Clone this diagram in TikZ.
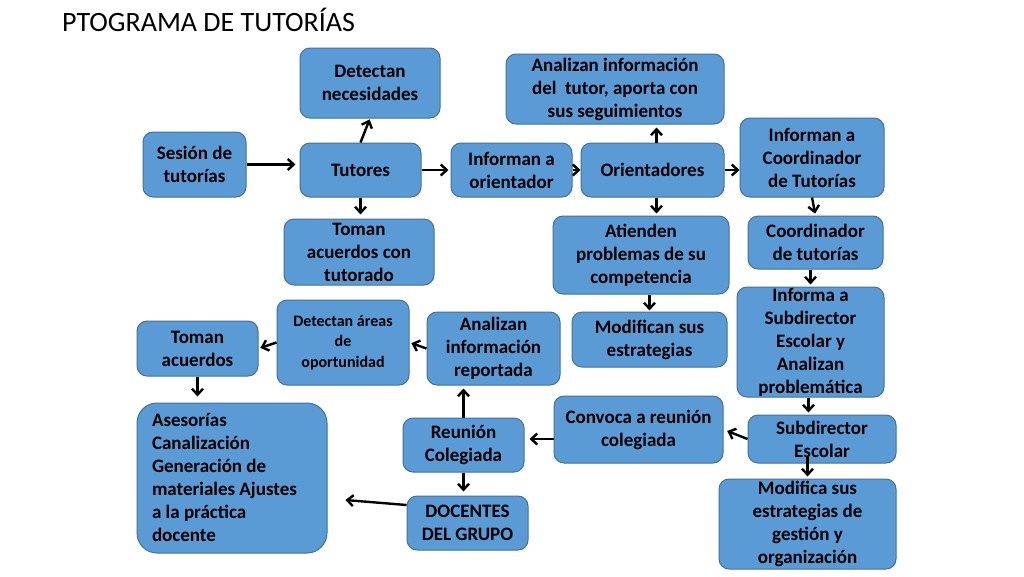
\documentclass[tikz,border=0pt]{standalone}
\usepackage{fontspec}
\setmainfont{Carlito}
\usepackage{tikz}
\usetikzlibrary{arrows.meta}
\definecolor{ColA}{RGB}{91,155,213}
\definecolor{ColB}{RGB}{65,113,156}
\tikzstyle{NodeBox}=[rectangle,rounded corners=10pt,draw=ColB,fill=ColA,line width=1pt,
inner sep=0pt,align=flush center,font=\bfseries\fontsize{19}{23}\selectfont]
\tikzstyle{NodeSmall}=[NodeBox,font=\bfseries\fontsize{16}{20.5}\selectfont]
\tikzstyle{EdgeArrow}=[black,line width=2.4pt,-{Straight Barb[length=6pt,width=11pt]}]
\tikzset{Size/.style 2 args={minimum width=#1,text width=#1,minimum height=#2}}

\begin{document}
\begin{tikzpicture}[x=1pt,y=-1pt]
        \useasboundingbox[fill=white](0,0)rectangle(1024,576);
        \node[anchor=base west,inner sep=0pt,font=\fontsize{28}{30}\selectfont](Title)at(62,31){PTOGRAMA DE TUTORÍAS};
        \node[NodeBox,Size={140pt}{70pt}](DetNec)at(370,83){Detectan\\necesidades};
        \node[NodeBox,Size={218pt}{70pt}](AnaInf)at(615,89){Analizan información\\del\ \ tutor, aporta con\\sus seguimientos};
        \node[NodeBox,Size={103pt}{65pt}](Sesion)at(194.5,164.5){Sesión de\\tutorías};
        \node[NodeBox,Size={121pt}{54pt}](Tut)at(360.5,170){Tutores};
        \node[NodeBox,Size={121pt}{54pt}](InfOri)at(511.5,170){Informan a\\orientador};
        \node[NodeBox,Size={143pt}{54pt}](Ori)at(652.5,170){Orientadores};
        \node[NodeBox,Size={144pt}{79pt}](InfCoo)at(812,157.5){Informan a\\Coordinador\\de Tutorías};
        \node[NodeBox,Size={150pt}{66pt}](TomTut)at(359,252){Toman\\acuerdos con\\tutorado};
        \node[NodeBox,Size={176pt}{78pt}](Atien)at(641,255){Atienden\\problemas de su\\competencia};
        \node[NodeBox,Size={135pt}{53pt}](CooTut)at(815.5,242.5){Coordinador\\de tutorías};
        \node[NodeBox,Size={147pt}{110pt}](InfSub)at(810.5,342){Informa a\\Subdirector\\Escolar y\\Analizan\\problemática};
        \node[NodeBox,Size={155pt}{55pt}](ModEst)at(649.5,339.5){Modifican sus\\estrategias};
        \node[NodeBox,Size={169pt}{67pt}](Convoca)at(638.5,429.5){Convoca a reunión\\colegiada};
        \node[NodeBox,Size={148pt}{48pt}](SubEsc)at(822,439){Subdirector\\Escolar};
        \node[NodeBox,Size={177pt}{90pt}](ModGes)at(807.5,524){Modifica sus\\estrategias de\\gestión y\\organización};
        \node[NodeSmall,Size={132pt}{85pt}](DetAre)at(343,342.5){Detectan áreas\\de\\oportunidad};
        \node[NodeBox,Size={133pt}{73pt}](AnaRep)at(493.5,348.5){Analizan\\información\\reportada};
        \node[NodeBox,Size={121pt}{55pt}](TomAcu)at(197.5,348.5){Toman\\acuerdos};
        \node[NodeBox,rounded corners=20pt,align=flush left,text width=160pt,inner xsep=15pt,
            minimum height=150pt](Ases)at(232,478){Asesorías\\Canalización\\Generación de\\materiales Ajustes\\a la práctica\\docente};
        \node[NodeBox,Size={121pt}{54pt}](Reu)at(463.5,445){Reunión\\Colegiada};
        \node[NodeBox,Size={121pt}{54pt}](Doc)at(467.5,523){DOCENTES\\DEL GRUPO};
        % connectors
        \draw[EdgeArrow,shorten >=4pt](Sesion.east)--(Sesion.east-|Tut.west);
        \draw[EdgeArrow,shorten >=1pt](Tut.north)--(DetNec.south);
        \draw[EdgeArrow,shorten >=4pt](Tut.south)--(Tut.south|-TomTut.north);
        \draw[EdgeArrow,shorten >=2pt](Tut.east)--(Tut.east-|InfOri.west);
        \draw[EdgeArrow](InfOri.east)--(InfOri.east-|Ori.west);
        \draw[EdgeArrow,shorten >=3pt]([xshift=4pt]Ori.north)--([xshift=4pt]Ori.north|-AnaInf.south);
        \draw[EdgeArrow](Ori.east)--(Ori.east-|InfCoo.west);
        \draw[EdgeArrow,shorten >=2pt]([xshift=4pt]Ori.south)--([xshift=4pt]Ori.south|-Atien.north);
        \draw[EdgeArrow,shorten >=2pt](InfCoo.south)--(CooTut.north);
        \draw[EdgeArrow,shorten >=2pt](InfSub.north|-CooTut.south)--(InfSub.north);
        \draw[EdgeArrow,shorten >=1pt](ModEst.north|-Atien.south)--(ModEst.north);
        \draw[EdgeArrow,shorten >=2pt]([xshift=-2pt]InfSub.south)--([xshift=-2pt]InfSub.south|-SubEsc.north);
        \draw[EdgeArrow,shorten >=4pt](SubEsc.west)--(Convoca.east);
        \draw[EdgeArrow,shorten >=2pt]([yshift=8pt]ModGes.north|-SubEsc.south)--(ModGes.north);
        \draw[EdgeArrow,shorten >=5pt]([yshift=6pt]Reu.east-|Convoca.west)--([yshift=6pt]Reu.east);
        \draw[EdgeArrow,shorten >=3pt](Reu.north)--(Reu.north|-AnaRep.south);
        \draw[EdgeArrow,shorten >=2pt](AnaRep.west)--(DetAre.east);
        \draw[EdgeArrow,shorten >=2pt](DetAre.west)--(TomAcu.east);
        \draw[EdgeArrow,shorten >=6pt](TomAcu.south)--(TomAcu.south|-Ases.north);
        \draw[EdgeArrow,shorten >=4pt](Reu.south)--(Reu.south|-Doc.north);
        \draw[EdgeArrow]([yshift=18pt]Doc.west)--([xshift=18pt,yshift=-22pt]Ases.east);
    \end{tikzpicture}
\end{document}
